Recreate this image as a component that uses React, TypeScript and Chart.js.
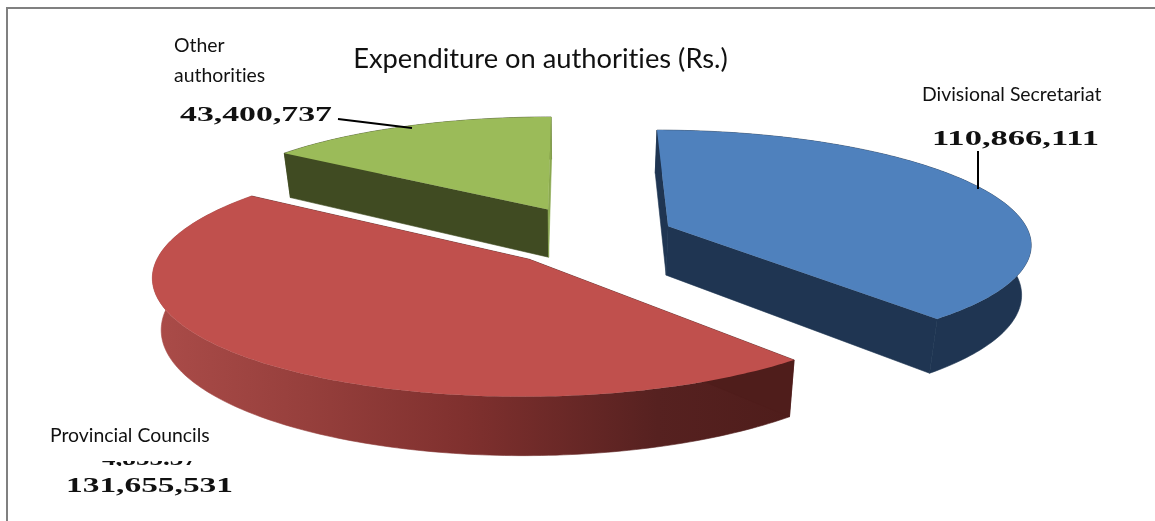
import React, { useEffect, useRef } from "react";
import { Chart, registerables } from "chart.js";

Chart.register(...registerables);

const TITLE = "Expenditure on authorities (Rs.)";
const categories = ["Divisional Secretariat", "Provincial Councils", "Other authorities"];
const values = [110866111, 131655531, 43400737];
const topColors = ["#4F81BD", "#C0504D", "#9BBB59"];
const wallColors = ["#1F3552", "#4F1D1B", "#404B22"];
const backCutColors = ["#1F3552", "#4F1D1B", "#8AA84F"];

// Camera of the 3-D view (unit pie on a ground plane)
const VIEW = { vx: 574, vy: -587, invY: 0.001213, invSlope: 0.000165, xScale: 0.44, shrink: 0.979, depth: 0.06 };
// How far each slice is pulled out of the pie, in pie radii
const explodeX = [0.263, -0.12, -0.074];
const explodeY = [-0.1, 0.19, -0.258];

const STEP = Math.PI / 180;
type P = [number, number];

function project(X: number, Y: number): P {
  const yy = 1 / (VIEW.invY - VIEW.invSlope * Y);
  return [VIEW.vx + VIEW.xScale * X * yy, VIEW.vy + yy];
}
function lower(p: P): P {
  return [VIEW.vx + (p[0] - VIEW.vx) * VIEW.shrink, p[1] + VIEW.depth * (p[1] - VIEW.vy)];
}
function fillPoly(ctx: CanvasRenderingContext2D, pts: P[], fill: string | CanvasGradient, seal = false) {
  ctx.beginPath();
  pts.forEach((p, i) => (i ? ctx.lineTo(p[0], p[1]) : ctx.moveTo(p[0], p[1])));
  ctx.closePath();
  ctx.fillStyle = fill;
  ctx.fill();
  if (seal) {
    ctx.strokeStyle = fill;
    ctx.lineWidth = 0.6;
    ctx.stroke();
  }
}

const pie3d = {
  id: "pie3d",
  beforeDraw(chart: any) {
    chart.ctx.textRendering = "optimizeSpeed";
  },
  beforeDatasetsDraw(chart: any) {
    const ctx: CanvasRenderingContext2D = chart.ctx;
    const arcs = chart.getDatasetMeta(0).data;
    const order = arcs.map((_: any, i: number) => i).sort((a: number, b: number) => explodeY[a] - explodeY[b]);
    for (const i of order) {
      const el = arcs[i];
      const apex = project(explodeX[i], explodeY[i]);
      const rim: P[] = [];
      const n = Math.max(2, Math.ceil((el.endAngle - el.startAngle) / STEP));
      for (let k = 0; k <= n; k++) {
        const t = el.startAngle + ((el.endAngle - el.startAngle) * k) / n;
        rim.push(project(explodeX[i] + Math.cos(t), explodeY[i] + Math.sin(t)));
      }
      const first = rim[0];
      const last = rim[rim.length - 1];
      let wall: string | CanvasGradient = wallColors[i];
      if (i === 1) {
        const g = ctx.createLinearGradient(150, 0, 785, 0);
        g.addColorStop(0, "#AB4C49");
        g.addColorStop(0.25, "#963F3C");
        g.addColorStop(0.5, "#7F302E");
        g.addColorStop(0.8, "#562120");
        g.addColorStop(1, "#4F1D1B");
        wall = g;
      }
      const backEdge = i === 2 ? last : first;
      const frontEdge = i === 2 ? first : last;
      fillPoly(ctx, [...rim, ...rim.map(lower).reverse()], wall, true);
      fillPoly(ctx, [apex, frontEdge, lower(frontEdge), lower(apex)], wallColors[i], true);
      fillPoly(ctx, [apex, backEdge, lower(backEdge), lower(apex)], backCutColors[i], true);
      fillPoly(ctx, [apex, ...rim], el.options.backgroundColor);
    }
    return false;
  },
};

function stretched(ctx: CanvasRenderingContext2D, text: string, x: number, base: number, width: number, size: number) {
  ctx.save();
  ctx.font = `bold ${size}px "Liberation Serif"`;
  ctx.textAlign = "left";
  ctx.textBaseline = "alphabetic";
  const w = ctx.measureText(text).width;
  ctx.translate(x, base);
  ctx.scale(width / w, 1);
  ctx.fillStyle = "#111";
  ctx.fillText(text, 0, 0);
  ctx.restore();
}

const fmt = (v: number) => v.toLocaleString("en-US");

const annotations = {
  id: "annotations",
  afterDraw(chart: any) {
    const ctx: CanvasRenderingContext2D = chart.ctx;
    ctx.save();
    // frame
    ctx.fillStyle = "#808080";
    ctx.fillRect(6, 7, 1149, 2);
    ctx.fillRect(6, 7, 2, 514);
    // leaders
    ctx.strokeStyle = "#000";
    ctx.lineWidth = 2;
    ctx.beginPath();
    ctx.moveTo(338, 119);
    ctx.lineTo(412, 128);
    ctx.moveTo(978, 151);
    ctx.lineTo(978, 189);
    ctx.stroke();
    // category labels
    ctx.font = '19.4px "Lato"';
    ctx.fillStyle = "#111";
    ctx.textAlign = "left";
    ctx.textBaseline = "alphabetic";
    ctx.fillText(categories[0], 922, 101);
    ctx.fillText(categories[1], 50, 442);
    const [a, b] = categories[2].split(" ");
    ctx.fillText(a, 174, 52);
    ctx.fillText(b, 174, 82);
    ctx.restore();
    // values
    stretched(ctx, fmt(values[0]), 932, 145, 167, 22);
    stretched(ctx, fmt(values[1]), 66, 492, 167, 22);
    stretched(ctx, fmt(values[2]), 180, 121, 152, 22);
    // clipped remnant above the Provincial Councils value
    ctx.save();
    ctx.beginPath();
    ctx.rect(100, 461, 100, 5);
    ctx.clip();
    stretched(ctx, "4,855.37", 102, 465, 95, 20);
    ctx.restore();
  },
};

export default function App() {
  const ref = useRef<HTMLCanvasElement>(null);
  useEffect(() => {
    const chart = new Chart(ref.current!, {
      type: "pie",
      data: {
        labels: categories,
        datasets: [{ data: values, backgroundColor: topColors, borderWidth: 0 }],
      },
      options: {
        responsive: false,
        animation: false,
        rotation: 0,
        layout: { padding: { top: 43, right: 74 } },
        plugins: {
          legend: { display: false },
          tooltip: { enabled: false },
          title: {
            display: true,
            text: TITLE,
            color: "#111",
            padding: 0,
            font: { family: "Lato", size: 27.3, weight: "normal" },
          },
        },
      },
      plugins: [pie3d, annotations],
    } as any);
    return () => chart.destroy();
  }, []);
  return (
    <div style={{ position: "fixed", left: 0, top: 0, width: 1155, height: 521, background: "#fff" }}>
      <canvas ref={ref} width={1155} height={521} style={{ display: "block" }} />
    </div>
  );
}
